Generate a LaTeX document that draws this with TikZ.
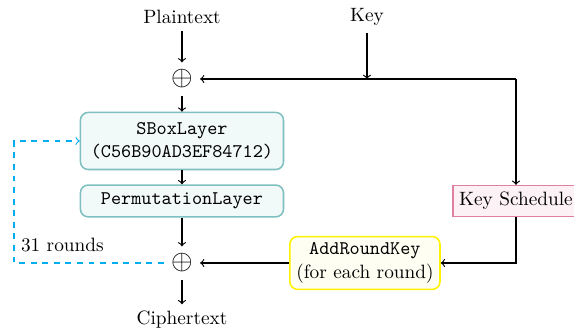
\documentclass[tikz,border=0pt]{standalone}
\usepackage{tikz}

\begin{document}
\begin{tikzpicture}[
        semithick,
        layernode/.style={rectangle, rounded corners, draw=teal!50, fill=teal!5, thick, minimum width=3.7cm, align=center, font=\ttfamily},
        keynode/.style={rectangle, draw=purple!50, fill=purple!5, thick, minimum height=0.56cm},
        roundkeynode/.style={rectangle, rounded corners, draw=yellow, fill=yellow!5, thick, align=center, minimum width=2.7cm, minimum height=0.96cm},
        xornode/.style={inner sep=3.5pt, font=\fontsize{15}{18}\selectfont},
        ]
        \useasboundingbox (0,0) rectangle (10.46,-6.12);

        % Nodes
        \node (plain) at (3.316,-0.310) {Plaintext};
        \node (key)   at (6.687,-0.310) {Key};
        \node[xornode] (xora) at (3.316,-1.439) {$\oplus$};
        \node[layernode, minimum height=1.04cm] (sbox) at (3.316,-2.569) {SBoxLayer\\(C56B90AD3EF84712)};
        \node[layernode, minimum height=0.58cm] (perm) at (3.316,-3.662) {PermutationLayer};
        \node[xornode] (xorb) at (3.316,-4.792) {$\oplus$};
        \node (cipher) at (3.316,-5.830) {Ciphertext};
        \node[keynode] (sched) at (9.402,-3.662) {Key Schedule};
        \node[roundkeynode] (addkey) at (6.650,-4.792) {\texttt{AddRoundKey}\\(for each round)};
        \node[anchor=west] (rounds) at (0.255,-4.46) {31 rounds};

        \coordinate (kjoin) at (6.687,-1.439);
        \coordinate (kcorner) at (9.402,-1.439);
        \coordinate (loop) at (0.255,-4.792);

        \draw[->] (plain) -- (xora);
        \draw[->] (key) -- (kjoin);
        \draw[->] (kcorner) -- (xora);
        \draw[->] (kcorner) -- (sched);
        \draw[->] (xora) -- (sbox);
        \draw[->] (sbox) -- (perm);
        \draw[->] (perm) -- (xorb);
        \draw[->] (xorb) -- (cipher);
        \draw[->] (sched.south) |- (addkey.east);
        \draw[->] (addkey) -- (xorb);
        \draw[->, dashed, cyan] (xorb.west) -- (loop) |- (sbox.west);

    \end{tikzpicture}
\end{document}
